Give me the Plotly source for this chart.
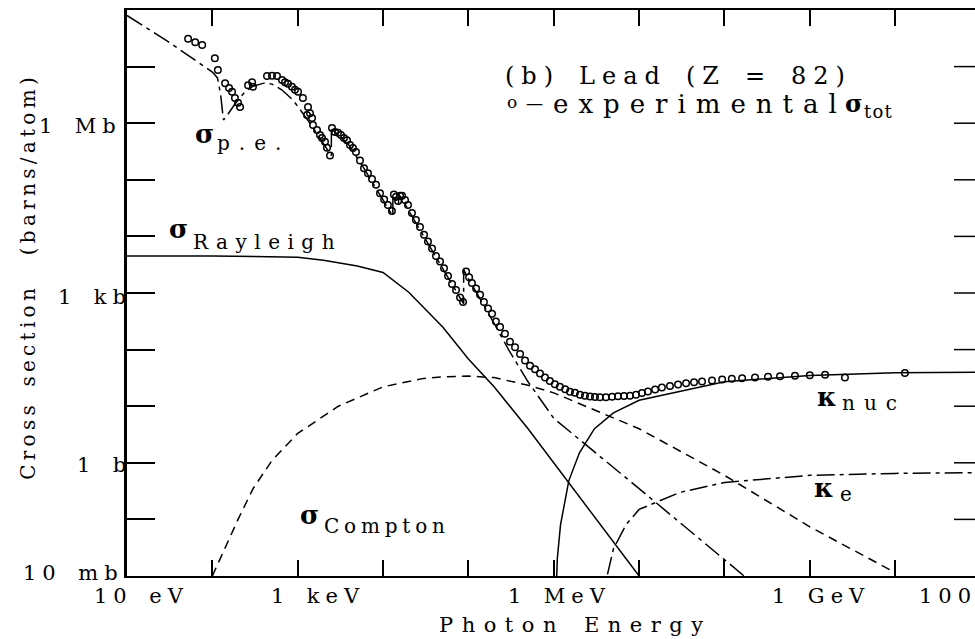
import plotly.graph_objects as go

# ---------------- data (energy in eV, cross section in barns/atom) ----------------
tot_E = [52, 63, 76, 107, 116, 141, 157, 170, 184, 200, 211,
         262, 292, 299, 437, 500, 572, 655, 710, 770, 857, 929, 1009, 1150,
         1321, 1285, 1394, 1471, 1511, 1683, 1824, 1926, 2088, 2205, 2390,
         2523, 2735, 2965, 3214, 3484, 3780, 4100, 4445, 4820, 5370, 5980,
         6660, 7420, 8270, 9210, 10300, 11400, 12700, 13400, 14200, 15000,
         15800, 16700, 18100, 19600, 21800, 24300, 27100, 30200, 33600,
         37500, 41700, 46500, 51800, 57700, 64300, 71600, 79800, 86500,
         94000, 102000, 110000, 123000, 137000, 152000, 170000, 189000,
         210000, 235000, 268000, 307000, 352000, 403000, 461000, 527000,
         603000, 690000, 790000, 900000, 1.03e6, 1.18e6, 1.36e6, 1.55e6,
         1.77e6, 2.03e6, 2.32e6, 2.66e6, 3.04e6, 3.48e6, 4.09e6, 4.82e6,
         5.66e6, 6.66e6, 7.82e6, 9.2e6, 1.08e7, 1.27e7, 1.54e7, 1.85e7,
         2.3e7, 2.86e7, 3.55e7, 4.4e7, 5.46e7, 7.15e7, 9.4e7, 1.22e8,
         1.61e8, 2.28e8, 3.24e8, 4.48e8, 6.7e8, 1.0e9, 1.51e9, 2.58e9, 1.3e10]
tot_sigma = [3.1e7, 2.7e7, 2.4e7, 1.4e7, 8.7e6, 5.1e6, 4.2e6, 3.6e6, 2.8e6, 2.3e6, 1.93e6,
             4.7e6, 5.3e6, 4.4e6, 6.8e6, 6.9e6, 6.8e6, 5.8e6, 5.3e6, 5.0e6, 4.4e6, 3.9e6, 3.6e6, 2.8e6,
             1.93e6, 1.4e6, 1.5e6, 1.24e6, 9.3e5, 7.6e5, 6.2e5, 5.5e5, 4.7e5, 3.7e5, 2.7e5,
             8.2e5, 7.0e5, 6.8e5, 6.2e5, 5.5e5, 5.0e5, 4.1e5, 3.65e5, 3.1e5, 2.2e5, 1.6e5,
             1.3e5, 1.03e5, 8.2e4, 5.8e4, 4.5e4, 3.6e4, 2.8e4, 5.5e4, 5.0e4, 4.2e4,
             5.2e4, 5.2e4, 4.4e4, 3.6e4, 2.6e4, 1.95e4, 1.47e4, 1.07e4, 8.1e3,
             6.1e3, 4.5e3, 3.6e3, 2.75e3, 2.0e3, 1.44e3, 1.13e3, 830, 690,
             2.4e3, 1.9e3, 1.5e3, 1.2e3, 930, 690, 535, 430,
             315, 250, 190, 138, 110, 84, 64, 52,
             45, 38, 32, 28, 24.4, 22, 20, 18,
             17.2, 16, 15.3, 14.9, 14.5, 14.4, 14.4, 14.7,
             15.0, 15.1, 15.3, 16, 17.1, 18.2, 19.8, 21.3,
             22.8, 24.2, 25.5, 26.5, 27.4, 28.5, 29.5, 30.4,
             31.2, 32, 33, 33.8, 34.6, 35.2, 36, 32, 38.5]

pe_E = [10, 30, 100, 115, 125, 135, 150, 185, 240, 300, 400, 500, 650, 850,
        1000, 1500, 2480, 2480, 4000, 6000, 10000, 13035, 13035, 15200, 15200,
        15860, 15860, 20000, 30000, 50000, 88000, 88000, 1e5, 2e5, 3e5, 5e5,
        1e6, 1e7, 1e8, 1.7e8]
pe_sigma = [8.0e7, 2.8e7, 8.0e6, 6.3e6, 3.2e6, 1.14e6, 1.4e6, 2.2e6, 3.56e6, 4.5e6, 5.1e6,
            4.9e6, 3.9e6, 2.7e6, 2.0e6, 8.5e5, 2.66e5, 8.0e5, 4.1e5, 1.58e5, 4.4e4,
            2.25e4, 5.4e4, 3.6e4, 4.9e4, 4.5e4, 5.2e4, 2.9e4, 1.0e4, 2.7e3, 640, 2.6e3,
            1.8e3, 290, 96, 27, 6.1, 0.35, 0.019, 0.01]

ray_E = [10, 100, 1000, 2000, 5000, 1e4, 2e4, 5e4, 1e5, 2e5, 5e5, 1e6, 2e6, 5e6, 1e7]
ray_sigma = [4500, 4500, 4300, 3800, 3000, 2300, 1030, 250, 68, 22, 4.0, 1.0, 0.26, 0.04, 0.01]

comp_E = [100, 150, 200, 300, 500, 1000, 3000, 1e4, 3e4, 5e4, 1e5, 2e5, 5e5,
          1e6, 1e7, 1e8, 1e9, 1e10]
comp_sigma = [0.01, 0.04, 0.1, 0.35, 1.1, 3.3, 10, 22, 31, 33, 34, 32, 23.5,
              17.2, 4.0, 0.6, 0.074, 0.0115]

knuc_E = [1.03e6, 1.1e6, 1.2e6, 1.5e6, 2e6, 3e6, 5e6, 1e7, 1e8, 1e9, 1e10, 1e11]
knuc_sigma = [0.001, 0.02, 0.08, 0.48, 1.5, 4.0, 7.6, 12.7, 27, 35, 39, 40]

ke_E = [3.5e6, 4.2e6, 5e6, 7e6, 1e7, 3e7, 1e8, 1e9, 1e10, 1e11]
ke_sigma = [0.003, 0.01, 0.03, 0.08, 0.15, 0.3, 0.45, 0.6, 0.65, 0.67]

# decade ticks
x_ticks = [10.0 ** k for k in range(1, 12)]
y_ticks = [10.0 ** k for k in range(-2, 9)]

# ---------------- geometry of the plotting area ----------------
W_FIG, H_FIG = 975, 639
L, R, T, B = 127, 0, 10, 63
PW, PH = W_FIG - L - R, H_FIG - T - B
PX_PER_DEC = 85.35
X_RANGE = [1, 1 + PW / PX_PER_DEC]
Y_RANGE = [-2, 8]

FONT = "DejaVu Serif"
INK = "black"
SP = "\u2002"  # wide word gap
DASHDOT = "18px,5px,4px,5px"


def paper(px, py):
    return (px - L) / PW, (H_FIG - B - py) / PH


fig = go.Figure()

line_specs = [
    (ray_E, ray_sigma, "solid"),
    (comp_E, comp_sigma, "9px,6px"),
    (pe_E, pe_sigma, DASHDOT),
    (knuc_E, knuc_sigma, "solid"),
    (ke_E, ke_sigma, DASHDOT),
]
for xs, ys, dash in line_specs:
    fig.add_trace(go.Scatter(x=xs, y=ys, mode="lines",
                             line=dict(color=INK, width=1.5, dash=dash),
                             hoverinfo="skip", showlegend=False))

fig.add_trace(go.Scatter(x=tot_E, y=tot_sigma, mode="markers",
                         marker=dict(symbol="circle-open", size=6.5,
                                     color=INK, line=dict(width=1.5, color=INK)),
                         showlegend=False))


def text(s, px, py, size=21, spacing=6, xanchor="center", yanchor="middle",
         angle=0, weight="normal"):
    # letter spacing trails the last glyph; shift so the inked text sits at px
    if angle == 0:
        if xanchor == "center":
            px += spacing / 2
        elif xanchor == "right":
            px += spacing
    else:
        py -= spacing / 2
    x, y = paper(px, py)
    fig.add_annotation(
        text=f'<span style="letter-spacing:{spacing}px">{s}</span>',
        xref="paper", yref="paper", x=x, y=y, showarrow=False,
        xanchor=xanchor, yanchor=yanchor, textangle=angle,
        font=dict(family=FONT, size=size, color=INK, weight=weight))


# y tick labels (right aligned against the axis)
text(f"1{SP}Mb", 118, 126, xanchor="right")
text(f"1{SP}kb", 128, 297, xanchor="right")
text(f"1{SP}b", 128, 465, xanchor="right")
text(f"10{SP}mb", 120, 573, xanchor="right")

# x tick labels
text(f"10{SP}eV", 138, 596)
text(f"1{SP}keV", 315, 596)
text(f"1{SP}MeV", 556, 596)
text(f"1{SP}GeV", 818, 596)
text(f"100{SP}GeV", 917, 596, xanchor="left")

# axis titles
text(f"Photon{SP}Energy", 571, 625, size=21, spacing=8.5)
text(f"Cross{SP}section{SP}{SP}(barns/atom)", 28, 279, size=20, spacing=4.3, angle=-90)

# panel title and symbol key
text(f"(b){SP}Lead{SP}(Z{SP}={SP}82)", 503, 76, size=24, spacing=7, xanchor="left")
text("o", 512, 102, size=17, spacing=0)
text("\u2014", 534, 103, size=17, spacing=0)
text("experimental", 551, 104, size=26, spacing=10, xanchor="left")
text("\u03c3", 854, 104, size=24, spacing=0, weight="bold")
text("tot", 862, 112, size=18, spacing=1.2, xanchor="left")

# curve labels: greek letter plus subscript
text("\u03c3", 204, 134, size=26, spacing=0, weight="bold")
text("p.e.", 215, 143, size=20, spacing=9, xanchor="left")
text("\u03c3", 178, 229, size=26, spacing=0, weight="bold")
text("Rayleigh", 191, 242, size=20, spacing=7.5, xanchor="left")
text("\u03c3", 309, 515, size=26, spacing=0, weight="bold")
text("Compton", 322, 526, size=20, spacing=4.8, xanchor="left")
text("\u03ba", 827, 397, size=26, spacing=0, weight="bold")
text("nuc", 840, 403, size=20, spacing=9, xanchor="left")
text("\u03ba", 824, 488, size=26, spacing=0, weight="bold")
text("e", 838, 494, size=20, spacing=0, xanchor="left")

# tick stubs of the right-hand frame
for k in range(-1, 8):
    fig.add_shape(type="line", xref="paper", yref="y",
                  x0=(954 - L) / PW, x1=1.0, y0=10.0 ** k, y1=10.0 ** k,
                  line=dict(color=INK, width=1.5))

fig.update_layout(
    width=W_FIG, height=H_FIG,
    margin=dict(l=L, r=R, t=T, b=B, pad=0),
    paper_bgcolor="white", plot_bgcolor="white",
    showlegend=False,
    xaxis=dict(type="log", range=X_RANGE, showgrid=False, zeroline=False,
               showline=True, linecolor=INK, linewidth=2, mirror="ticks",
               ticks="inside", ticklen=16, tickwidth=1.5, tickcolor=INK,
               tickvals=x_ticks, showticklabels=False),
    yaxis=dict(type="log", range=Y_RANGE, showgrid=False, zeroline=False,
               showline=True, linecolor=INK, linewidth=2.5, mirror=False,
               ticks="inside", ticklen=28, tickwidth=1.5, tickcolor=INK,
               tickvals=y_ticks, showticklabels=False),
)

fig.write_html("out.html")
